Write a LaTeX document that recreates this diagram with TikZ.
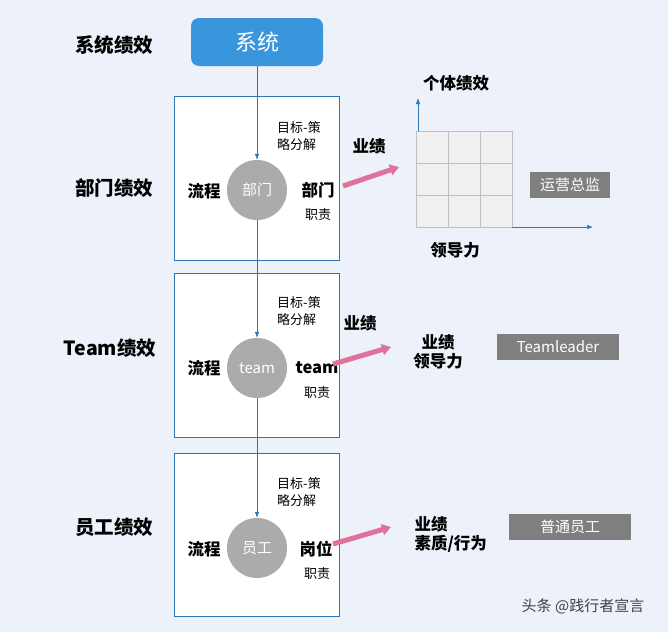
\documentclass[tikz,border=0pt]{standalone}
\usepackage{fontspec}
\setmainfont{Noto Sans CJK SC}
\usetikzlibrary{arrows.meta}
\definecolor{bg}{HTML}{EDF2FA}
\definecolor{blu}{HTML}{3A96DC}
\definecolor{ln}{HTML}{2E75B6}
\definecolor{pk}{HTML}{E0729A}
\definecolor{gr}{HTML}{7F7F7F}
\begin{document}
\begin{tikzpicture}[x=1pt,y=-1pt,
 ttl/.style={font=\bfseries\fontsize{19.5}{21}\selectfont},
 bld/.style={font=\bfseries\fontsize{16.5}{19}\selectfont},
 sm/.style={font=\fontsize{13}{17}\selectfont},
 panel/.style={draw=ln,fill=white,line width=0.6pt},
 circ/.style={circle,fill=black!33,minimum size=60pt,text=white,font=\fontsize{15}{17}\selectfont},
 tag/.style={fill=gr,text=white,font=\fontsize{15}{17}\selectfont,inner sep=0pt},
 pink/.style={-{Triangle[length=9pt,width=11pt]},line width=5pt,pk},
 ax/.style={-{Latex[length=6pt]},ln,line width=0.6pt}]
\fill[bg] (0,0) rectangle (668,632);
\node[fill=blu,rounded corners=8pt,minimum width=132pt,minimum height=48pt,text=white,font=\fontsize{22}{24}\selectfont] (sys) at (257,42) {系统};
\node[ttl] (l1) at (114,45) {系统绩效};
\node[ttl] (l2) at (114,188) {部门绩效};
\node[ttl] (l3) at (110,348) {Team绩效};
\node[ttl] (l4) at (114,527) {员工绩效};
\draw[panel] (174,96) rectangle (339,260);
\draw[panel] (174,273) rectangle (339,437);
\draw[panel] (174,453) rectangle (339,616);
\node[circ] (c1) at (257,190) {部门};
\node[circ] (c2) at (257,368) {team};
\node[circ] (c3) at (257,548) {员工};
\draw[ax] (sys.south) -- (c1.north);
\draw[ax] (c1.south) -- (c2.north);
\draw[ax] (c2.south) -- (c3.north);
\foreach \y/\n in {127/1,302/2,483/3}{
 \node[sm,align=left] (g\n) at (299,\y+9) {目标-策\\略分解};}
\node[bld] (f1) at (204,191) {流程};
\node[bld] (f2) at (204,368) {流程};
\node[bld] (f3) at (204,549) {流程};
\node[bld] (r1) at (318,190) {部门};
\node[sm] (z1) at (318,215) {职责};
\node[bld] (r2) at (317,368) {team};
\node[sm] (z2) at (317,393) {职责};
\node[bld] (r3) at (316,549) {岗位};
\node[sm] (z3) at (317,574) {职责};
\coordinate (a1s) at (343,186); \coordinate (a1e) at (399,167);
\coordinate (a2s) at (333,364); \coordinate (a2e) at (391,347);
\coordinate (a3s) at (333,544); \coordinate (a3e) at (391,527);
\draw[pink] (a1s) -- (a1e);
\draw[pink] (a2s) -- (a2e);
\draw[pink] (a3s) -- (a3e);
\node[bld] (y1) at (369,146) {业绩};
\node[bld] (y2) at (360,323) {业绩};
\foreach \i in {0,1,2}{\foreach \j in {0,1,2}{
 \draw[fill=black!6,draw=black!25] (416+\i*32,131+\j*32) rectangle ++(32,32);}}
\coordinate (o1) at (418,131); \coordinate (o2) at (418,98);
\coordinate (h1) at (512,227); \coordinate (h2) at (593,227);
\draw[ax] (o1) -- (o2);
\draw[ax] (h1) -- (h2);
\node[bld] (gt) at (456,83) {个体绩效};
\node[bld] (ld) at (455,250) {领导力};
\node[tag,minimum width=80pt,minimum height=26pt] (t1) at (570,185) {运营总监};
\node[tag,minimum width=122pt,minimum height=26pt] (t2) at (558,347) {Teamleader};
\node[tag,minimum width=122pt,minimum height=26pt] (t3) at (570,527) {普通员工};
\node[bld,align=center] (b2) at (438,352) {业绩\\领导力};
\node[bld,align=left,anchor=west] (b3) at (411,534) {业绩\\素质/行为};
\node[font=\fontsize{15}{17}\selectfont,text=black!75] (wm) at (583,606) {头条 @践行者宣言};
\end{tikzpicture}
\end{document}
